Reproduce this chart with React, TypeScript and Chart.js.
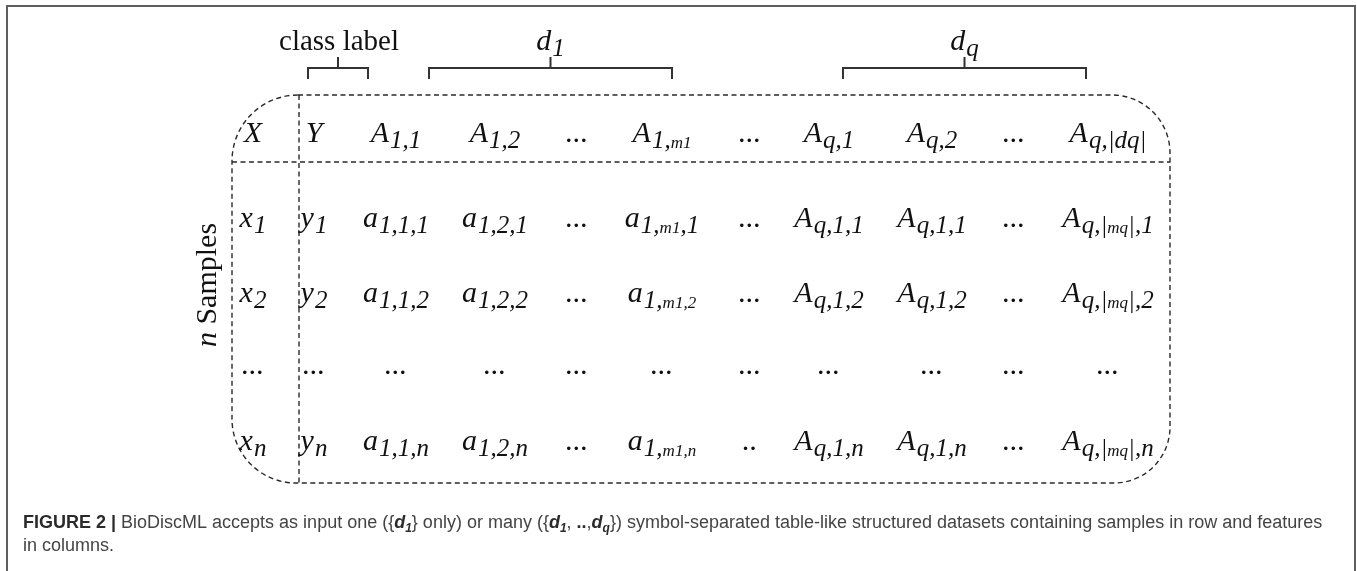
import React, { useEffect, useRef } from "react";
import { Chart, registerables } from "chart.js";
Chart.register(...registerables);

const W = 1357;
const H = 571;

// ---- data (texts of the table diagram) ----
const HEADER_ROW = ["X", "Y", "A_1,1", "A_1,2", "...", "A_1,{m1}", "...", "A_q,1", "A_q,2", "...", "A_q,|dq|"];
const SAMPLE_ROW_1 = ["x_1", "y_1", "a_1,1,1", "a_1,2,1", "...", "a_1,{m1},1", "...", "A_q,1,1", "A_q,1,1", "...", "A_q,|{mq}|,1"];
const SAMPLE_ROW_2 = ["x_2", "y_2", "a_1,1,2", "a_1,2,2", "...", "a_1,{m1,2}", "...", "A_q,1,2", "A_q,1,2", "...", "A_q,|{mq}|,2"];
const SAMPLE_ROW_DOTS = ["...", "...", "...", "...", "...", "...", "...", "...", "...", "...", "..."];
const SAMPLE_ROW_N = ["x_n", "y_n", "a_1,1,n", "a_1,2,n", "...", "a_1,{m1,n}", "..", "A_q,1,n", "A_q,1,n", "...", "A_q,|{mq}|,n"];
const GROUP_LABELS = ["class label", "d_1", "d_q"];
const SIDE_LABEL_ITALIC = "n";
const SIDE_LABEL_TEXT = " Samples";
const CAPTION_LINE_1 = [
  ["b", "FIGURE 2 | "],
  ["r", "BioDiscML accepts as input one ({"],
  ["bi", "d"], ["bs", "1"],
  ["r", "} only) or many ({"],
  ["bi", "d"], ["bs", "1"],
  ["r", ", "], ["b", ".."], ["r", ","],
  ["bi", "d"], ["bs", "q"],
  ["r", "}) symbol-separated table-like structured datasets containing samples in row and features"],
];
const CAPTION_LINE_2 = [["r", "in columns."]];

// ---- layout ----
const COL_X = [253, 314, 396, 495, 577, 662, 750, 829, 932, 1014, 1108];
const ROW_BASE = [142, 227, 302, 374, 450];
const GROUP_SPANS = [[308, 368], [429, 672], [843, 1086]];
const BOX = { l: 232, t: 95, r: 1170, b: 483, sepX: 299, sepY: 162 };
const SERIF = '"Liberation Serif", "Times New Roman", serif';
const SANS = '"Liberation Sans", Arial, sans-serif';

type Seg = { t: string; lvl: number };
function parseLabel(s: string): Seg[] {
  const i = s.indexOf("_");
  if (i < 0) return [{ t: s, lvl: 0 }];
  const segs: Seg[] = [{ t: s.slice(0, i), lvl: 0 }];
  let buf = "";
  let lvl = 1;
  for (const ch of s.slice(i + 1)) {
    if (ch === "{") { if (buf) segs.push({ t: buf, lvl }); buf = ""; lvl = 2; }
    else if (ch === "}") { if (buf) segs.push({ t: buf, lvl }); buf = ""; lvl = 1; }
    else buf += ch;
  }
  if (buf) segs.push({ t: buf, lvl });
  return segs;
}
const LVL_FONT = [`italic 30px ${SERIF}`, `italic 25px ${SERIF}`, `italic 17px ${SERIF}`];
const LVL_DY = [0, 6, 6];

function drawRich(ctx: CanvasRenderingContext2D, s: string, cx: number, base: number) {
  const segs = parseLabel(s);
  let total = 0;
  const widths = segs.map((g, k) => {
    ctx.font = LVL_FONT[g.lvl];
    const w = ctx.measureText(g.t).width + (k === 0 && segs.length > 1 ? 1 : 0);
    total += w;
    return w;
  });
  let x = cx - total / 2;
  ctx.textAlign = "left";
  ctx.textBaseline = "alphabetic";
  segs.forEach((g, k) => {
    ctx.font = LVL_FONT[g.lvl];
    ctx.fillText(g.t, x, base + LVL_DY[g.lvl]);
    x += widths[k];
  });
}

const diagramPlugin = {
  id: "diagram",
  afterDraw(chart: any) {
    const ctx: CanvasRenderingContext2D = chart.ctx;
    const xs = chart.scales.x;
    const ys = chart.scales.y;
    const px = (v: number) => xs.getPixelForValue(v);
    const py = (v: number) => ys.getPixelForValue(v);
    ctx.save();

    // figure frame
    ctx.strokeStyle = "#5e5e5e";
    ctx.lineWidth = 2;
    ctx.beginPath();
    ctx.moveTo(px(7), py(H));
    ctx.lineTo(px(7), py(6));
    ctx.lineTo(px(1355), py(6));
    ctx.lineTo(px(1355), py(H));
    ctx.stroke();

    // dashed rounded box
    ctx.strokeStyle = "#2a2a2a";
    ctx.lineWidth = 1.4;
    ctx.setLineDash([5, 3.5]);
    const l = px(BOX.l), t = py(BOX.t), r = px(BOX.r), b = py(BOX.b);
    const rTL = 66, rTR = 58, rBR = 56, rBL = 64;
    ctx.beginPath();
    ctx.moveTo(l + rTL, t);
    ctx.lineTo(r - rTR, t);
    ctx.arcTo(r, t, r, t + rTR, rTR);
    ctx.lineTo(r, b - rBR);
    ctx.arcTo(r, b, r - rBR, b, rBR);
    ctx.lineTo(l + rBL, b);
    ctx.arcTo(l, b, l, b - rBL, rBL);
    ctx.lineTo(l, t + rTL);
    ctx.arcTo(l, t, l + rTL, t, rTL);
    ctx.closePath();
    ctx.stroke();
    ctx.beginPath();
    ctx.moveTo(l, py(BOX.sepY));
    ctx.lineTo(r, py(BOX.sepY));
    ctx.moveTo(px(BOX.sepX), t);
    ctx.lineTo(px(BOX.sepX), b);
    ctx.stroke();
    ctx.setLineDash([]);

    // brackets
    ctx.strokeStyle = "#333";
    ctx.lineWidth = 2;
    GROUP_SPANS.forEach(([a, c]) => {
      const mid = (a + c) / 2;
      ctx.beginPath();
      ctx.moveTo(px(a), py(79));
      ctx.lineTo(px(a), py(68));
      ctx.lineTo(px(c), py(68));
      ctx.lineTo(px(c), py(79));
      ctx.moveTo(px(mid), py(68));
      ctx.lineTo(px(mid), py(57));
      ctx.stroke();
    });

    // group labels
    ctx.fillStyle = "#111";
    GROUP_LABELS.forEach((lab, k) => {
      const [a, c] = GROUP_SPANS[k];
      const mid = px((a + c) / 2);
      if (lab.indexOf("_") < 0) {
        ctx.font = `29px ${SERIF}`;
        ctx.textAlign = "center";
        ctx.textBaseline = "alphabetic";
        ctx.fillText(lab, mid + 1, py(50));
      } else {
        drawRich(ctx, lab, mid, py(50));
      }
    });

    // table cells
    const rows = [HEADER_ROW, SAMPLE_ROW_1, SAMPLE_ROW_2, SAMPLE_ROW_DOTS, SAMPLE_ROW_N];
    rows.forEach((row, ri) => {
      row.forEach((cell, ci) => {
        drawRich(ctx, cell, px(COL_X[ci]), py(ROW_BASE[ri]));
      });
    });

    // side label
    ctx.save();
    ctx.translate(px(208), py(285));
    ctx.rotate(-Math.PI / 2);
    ctx.textBaseline = "middle";
    ctx.textAlign = "left";
    ctx.font = `italic 30px ${SERIF}`;
    const w1 = ctx.measureText(SIDE_LABEL_ITALIC).width;
    ctx.font = `30px ${SERIF}`;
    const w2 = ctx.measureText(SIDE_LABEL_TEXT).width;
    const start = -(w1 + w2) / 2;
    ctx.font = `italic 30px ${SERIF}`;
    ctx.fillText(SIDE_LABEL_ITALIC, start, 0);
    ctx.font = `30px ${SERIF}`;
    ctx.fillText(SIDE_LABEL_TEXT, start + w1, 0);
    ctx.restore();

    // caption
    const capFont: Record<string, string> = {
      b: `bold 18px ${SANS}`,
      r: `18px ${SANS}`,
      bi: `italic bold 18px ${SANS}`,
      bs: `italic bold 12px ${SANS}`,
    };
    const drawCap = (line: string[][], x0: number, base: number) => {
      let x = x0;
      ctx.textAlign = "left";
      ctx.textBaseline = "alphabetic";
      line.forEach(([k, t]) => {
        ctx.font = capFont[k];
        ctx.fillStyle = k === "r" ? "#444" : "#2b2b2b";
        ctx.fillText(t, x, base + (k === "bs" ? 4 : 0));
        x += ctx.measureText(t).width;
      });
    };
    drawCap(CAPTION_LINE_1, px(23), py(528));
    drawCap(CAPTION_LINE_2, px(23), py(551));

    ctx.restore();
  },
};

export default function App() {
  const ref = useRef<HTMLCanvasElement | null>(null);
  useEffect(() => {
    if (!ref.current) return;
    const chart = new Chart(ref.current, {
      type: "scatter",
      data: { datasets: [{ data: [], pointRadius: 0 }] },
      options: {
        responsive: false,
        animation: false,
        events: [],
        layout: { padding: 0 },
        plugins: { legend: { display: false }, tooltip: { enabled: false } },
        scales: {
          x: { type: "linear", min: 0, max: W, display: false },
          y: { type: "linear", min: 0, max: H, reverse: true, display: false },
        },
      },
      plugins: [diagramPlugin],
    });
    return () => chart.destroy();
  }, []);
  return (
    <div style={{ position: "fixed", left: 0, top: 0, width: W, height: H, background: "#fff" }}>
      <canvas ref={ref} width={W} height={H} style={{ display: "block" }} />
    </div>
  );
}
